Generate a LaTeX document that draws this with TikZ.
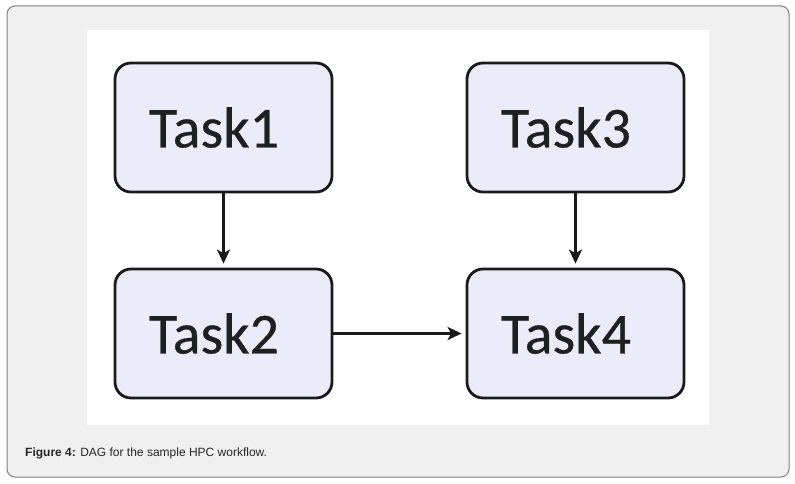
\documentclass[tikz,border=0pt]{standalone}
\usepackage{fontspec}
\setmainfont{Carlito}
\newfontfamily\taskfont[FakeBold=0.5]{Carlito}
\newfontfamily\capfont{Liberation Sans}
\usetikzlibrary{arrows.meta}
\definecolor{framebg}{HTML}{F0F0F0}
\definecolor{frameline}{HTML}{808080}
\definecolor{taskfill}{HTML}{EBEBFA}
\definecolor{taskline}{HTML}{1A1A1A}
\newcommand{\tasklabel}[1]{\hspace*{-19pt}\raisebox{-3pt}{#1}}
\tikzset{
  taskbox/.style={draw=taskline, line width=2.8pt, fill=taskfill, rounded corners=16pt,
    minimum width=217pt, minimum height=129pt, inner sep=0pt,
    font=\taskfont\fontsize{58}{62}\selectfont, text=black!88},
  flow/.style={draw=black!90, line width=2.4pt, -{Stealth[length=14pt,width=13pt,inset=3.5pt]}, shorten >=4pt}
}
\begin{document}
\begin{tikzpicture}[x=1pt,y=-1pt]
\useasboundingbox (0,0) rectangle (795,484);
\fill[white] (0,0) rectangle (795,484);
\draw[fill=framebg, draw=frameline, line width=1pt, rounded corners=8pt] (7,6) rectangle (789,477);
\fill[white] (87,30) rectangle (709,425);
\node[taskbox] (t1) at (223.5,127.5) {\tasklabel{Task1}};
\node[taskbox] (t3) at (575.5,127.5) {\tasklabel{Task3}};
\node[taskbox] (t2) at (223.5,333.5) {\tasklabel{Task2}};
\node[taskbox] (t4) at (575.5,333.5) {\tasklabel{Task4}};
\draw[flow] (t1) -- (t2);
\draw[flow] (t3) -- (t4);
\draw[flow] (t2) -- (t4);
\node[anchor=west, font=\capfont\fontsize{12}{14}\selectfont, text=black!85, inner sep=0pt] (cap) at (25,453) {\textbf{Figure 4:} DAG for the sample HPC workflow.};
\end{tikzpicture}
\end{document}
